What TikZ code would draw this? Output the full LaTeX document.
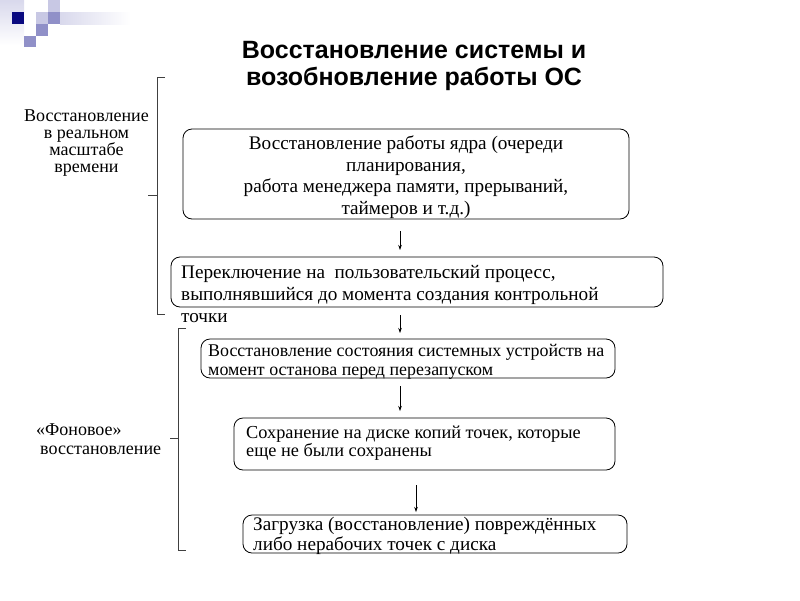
\documentclass[tikz,border=0pt]{standalone}
\usepackage{fontspec}
\setmainfont{Liberation Serif}
\newfontfamily\titlefont{Liberation Sans}
\usetikzlibrary{arrows.meta}
\definecolor{navy}{HTML}{0A0A80}
\definecolor{midsq}{HTML}{9090C8}
\definecolor{lightsq}{HTML}{C8C8E4}
\tikzset{
  stepbox/.style={draw, line width=0.8pt, rounded corners=9pt, inner sep=0pt},
  bodytext/.style={align=center, inner sep=0pt},
  lefttext/.style={font=\fontsize{18}{17.3}\selectfont, align=center, inner sep=0pt},
  flow/.style={-{Stealth[length=5pt,width=3.5pt]}, line width=0.6pt},
  bracket/.style={line width=0.8pt, draw=black!75}
}
\begin{document}
\begin{tikzpicture}[x=1pt,y=-1pt]
\useasboundingbox (0,0) rectangle (800,600);
% logo squares
\shade[left color=lightsq!70, right color=white] (60,12) rectangle (130,24);
\shade[top color=lightsq!70, bottom color=white] (0,0) rectangle (24,45);
\fill[lightsq] (48,0) rectangle (60,12);
\fill[lightsq] (36,12) rectangle (48,24);
\fill[midsq] (48,12) rectangle (60,24);
\fill[midsq] (36,24) rectangle (48,36);
\fill[midsq] (24,36) rectangle (36,47);
\fill[navy] (12,12) rectangle (24,24);
% title
\node[font=\titlefont\bfseries\fontsize{25}{27}\selectfont, align=center] (title) at (414,65.5)
  {Восстановление системы и\\возобновление работы ОС};
% boxes
\node[stepbox, minimum width=446pt, minimum height=90pt] (b1) at (406,174) {};
\node[bodytext, font=\fontsize{19.2}{21.5}\selectfont] (t1) at (406,177) {Восстановление работы ядра (очереди\\планирования,\\работа менеджера памяти, прерываний,\\таймеров и т.д.)};
\node[stepbox, minimum width=492pt, minimum height=50pt] (b2) at (417,282) {};
\node[bodytext, align=left, font=\fontsize{19.2}{22}\selectfont, anchor=north west] (t2) at (181,265) {Переключение на\ \ пользовательский процесс,\\выполнявшийся до момента создания контрольной\\точки};
\node[stepbox, minimum width=414pt, minimum height=39pt] (b3) at (408,358.5) {};
\node[bodytext, align=left, font=\fontsize{17.9}{18.5}\selectfont, anchor=north west] (t3) at (208,344.5) {Восстановление состояния системных устройств на\\момент останова перед перезапуском};
\node[stepbox, minimum width=381pt, minimum height=52pt] (b4) at (424.5,444) {};
\node[bodytext, align=left, font=\fontsize{18.3}{18}\selectfont, anchor=north west] (t4) at (246,426) {Сохранение на диске копий точек, которые\\еще не были сохранены};
\node[stepbox, minimum width=384pt, minimum height=38pt] (b5) at (435,534) {};
\node[bodytext, align=left, font=\fontsize{19.2}{20}\selectfont, anchor=north west] (t5) at (253,517) {Загрузка (восстановление) повреждённых\\либо нерабочих точек с диска};
% arrows
\coordinate (a1s) at (400,231); \coordinate (a1e) at (400,250);
\coordinate (a2s) at (400,315); \coordinate (a2e) at (400,333);
\coordinate (a3s) at (400,386); \coordinate (a3e) at (400,411);
\coordinate (a4s) at (416,485); \coordinate (a4e) at (416,512);
\draw[flow] (a1s) -- (a1e);
\draw[flow] (a2s) -- (a2e);
\draw[flow] (a3s) -- (a3e);
\draw[flow] (a4s) -- (a4e);
% brackets
\coordinate (br1top) at (165,77); \coordinate (br1bot) at (165,314);
\draw[bracket] (br1top) -- (157,77) -- (157,314) -- (br1bot);
\coordinate (br1mid) at (148,195);
\draw[bracket] (157,195) -- (br1mid);
\coordinate (br2top) at (186,328); \coordinate (br2bot) at (186,550);
\draw[bracket] (br2top) -- (178,328) -- (178,550) -- (br2bot);
\coordinate (br2mid) at (170,438);
\draw[bracket] (178,438) -- (br2mid);
% left labels
\node[lefttext] (l1) at (86.5,143) {Восстановление\\в реальном\\масштабе\\времени};
\node[lefttext, anchor=west] (l2a) at (36,430) {«Фоновое»};
\node[lefttext, anchor=west] (l2b) at (40,450.5) {восстановление};
\end{tikzpicture}
\end{document}
